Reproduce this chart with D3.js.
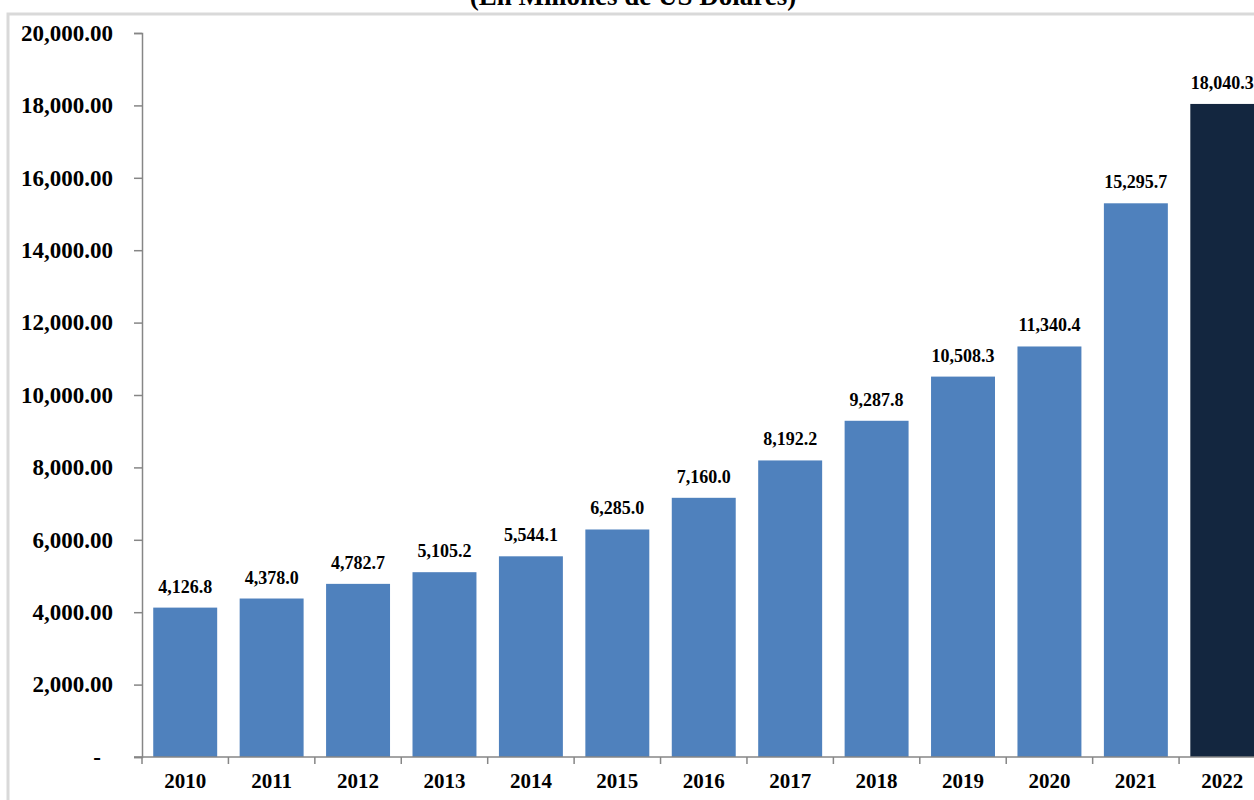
<!DOCTYPE html>
<html><head><meta charset="utf-8">
<script src="https://cdn.jsdelivr.net/npm/d3@7"></script>
<style>body{margin:0;background:#fff;overflow:hidden}svg{display:block}text{font-family:"Liberation Serif","Times New Roman",serif;font-weight:bold;fill:#000}</style>
</head><body><svg id="c" width="1254" height="800"></svg>
<script>
const years = ["2010","2011","2012","2013","2014","2015","2016","2017","2018","2019","2020","2021","2022"];
const values = [4126.8,4378.0,4782.7,5105.2,5544.1,6285.0,7160.0,8192.2,9287.8,10508.3,11340.4,15295.7,18040.3];
const yTicks = [0,2000,4000,6000,8000,10000,12000,14000,16000,18000,20000];
const title = "(En Millones de US Dólares)";

const svg = d3.select("#c");
svg.append("rect").attr("x",8).attr("y",14).attr("width",1400).attr("height",1000)
  .attr("fill","#fff").attr("stroke","#d9d9d9").attr("stroke-width",3);
svg.append("text").attr("x",633).attr("y",5).attr("text-anchor","middle")
  .style("font-size","27px").text(title);

const x = d3.scaleBand().domain(years).range([142,1265.5]).paddingInner(0.26).paddingOuter(0.13);
const y = d3.scaleLinear().domain([0,20000]).range([757,33]);

const g = svg.append("g");
g.selectAll("rect.bar").data(years).join("rect").attr("class","bar")
  .attr("x",d=>x(d)).attr("width",x.bandwidth())
  .attr("y",(d,i)=>y(values[i])).attr("height",(d,i)=>y(0)-y(values[i]))
  .attr("fill",(d,i)=> d==="2022" ? "#13263f" : "#4f81bd");

// y axis
const yAxis = d3.axisLeft(y).tickValues(yTicks).tickSize(8).tickPadding(21)
  .tickFormat(v => v===0 ? "-" : d3.format(",.2f")(v));
const ya = svg.append("g").attr("transform","translate(142,0)").call(yAxis);
ya.select(".domain").attr("stroke","#868686").attr("stroke-width",1.5);
ya.selectAll(".tick line").attr("stroke","#868686").attr("stroke-width",1.5);
ya.selectAll(".tick text").style("font-size","23px").style("font-family","Liberation Serif, serif").style("font-weight","bold").attr("fill","#000");
ya.selectAll(".tick").filter(d=>d===0).select("text").attr("x",-41);

// x axis
const step = x.step();
svg.append("line").attr("x1",134).attr("x2",1254).attr("y1",757).attr("y2",757)
  .attr("stroke","#868686").attr("stroke-width",1.5);
const bounds = years.map(d => x(d) + x.bandwidth()/2 - step/2);
svg.selectAll("line.xt").data(bounds).join("line").attr("class","xt")
  .attr("x1",d=>d).attr("x2",d=>d).attr("y1",757).attr("y2",764)
  .attr("stroke","#868686").attr("stroke-width",1.5);
svg.selectAll("text.xl").data(years).join("text").attr("class","xl")
  .attr("x",d=>x(d)+x.bandwidth()/2).attr("y",788).attr("text-anchor","middle")
  .style("font-size","21px").text(d=>d);

// data labels
svg.selectAll("text.dl").data(years).join("text").attr("class","dl")
  .attr("x",d=>x(d)+x.bandwidth()/2).attr("y",(d,i)=>y(values[i])-15).attr("text-anchor","middle")
  .style("font-size","18px").text((d,i)=>d3.format(",.1f")(values[i]));
</script></body></html>
